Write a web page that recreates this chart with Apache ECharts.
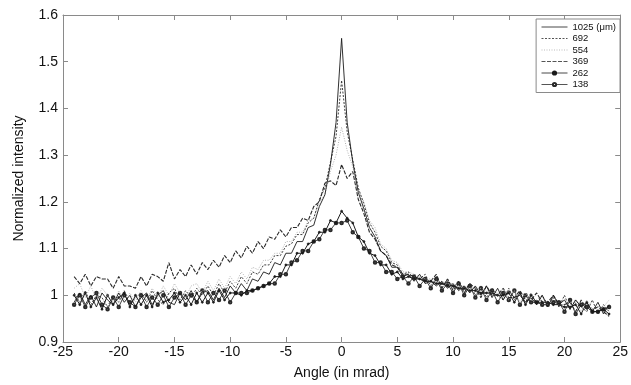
<!DOCTYPE html>
<html>
<head>
<meta charset="utf-8">
<script src="https://cdn.jsdelivr.net/npm/echarts@6/dist/echarts.min.js"></script>
<style>html,body{margin:0;padding:0;background:#fff}#c{width:631px;height:385px}</style>
</head>
<body>
<div id="c"></div>
<script>
const angles = [
 -24,-23.5,-23,-22.5,-22,-21.5,-21,-20.5,-20,-19.5,-19,-18.5,
 -18,-17.5,-17,-16.5,-16,-15.5,-15,-14.5,-14,-13.5,-13,-12.5,
 -12,-11.5,-11,-10.5,-10,-9.5,-9,-8.5,-8,-7.5,-7,-6.5,
 -6,-5.5,-5,-4.5,-4,-3.5,-3,-2.5,-2,-1.5,-1,-0.5,
 0,0.5,1,1.5,2,2.5,3,3.5,4,4.5,5,5.5,
 6,6.5,7,7.5,8,8.5,9,9.5,10,10.5,11,11.5,
 12,12.5,13,13.5,14,14.5,15,15.5,16,16.5,17,17.5,
 18,18.5,19,19.5,20,20.5,21,21.5,22,22.5,23,23.5,
 24];
const s1025 = [
 0.985,1.005,0.98,1.00,0.975,1.005,0.99,0.98,1.005,0.985,1.00,0.975,
 0.995,1.005,0.98,1.00,1.01,0.985,0.98,1.005,0.99,1.01,0.985,1.005,
 1.01,0.99,1.015,0.995,1.02,1.005,1.025,1.01,1.035,1.03,1.05,1.045,
 1.07,1.065,1.09,1.09,1.115,1.115,1.145,1.15,1.19,1.215,1.28,1.37,
 1.55,1.37,1.285,1.22,1.185,1.145,1.125,1.095,1.085,1.06,1.06,1.04,
 1.045,1.03,1.045,1.025,1.03,1.02,1.03,1.015,1.025,1.01,1.02,1.005,
 1.02,1.00,1.02,0.995,1.015,0.99,1.01,0.995,1.00,0.985,0.995,0.98,
 1.00,0.975,1.00,0.98,0.99,0.97,0.99,0.975,0.985,0.965,0.985,0.96,
 0.98];
const s692 = [
 1.005,0.985,1.01,0.98,1.00,0.995,0.975,1.00,0.985,1.01,0.98,0.995,
 1.005,0.985,1.01,0.99,0.98,1.005,1.015,0.99,1.01,0.995,1.015,1.00,
 1.02,1.00,1.025,1.005,1.03,1.015,1.04,1.025,1.05,1.045,1.065,1.065,
 1.085,1.085,1.105,1.11,1.13,1.13,1.155,1.165,1.205,1.23,1.285,1.34,
 1.46,1.35,1.29,1.23,1.195,1.155,1.135,1.105,1.095,1.07,1.065,1.045,
 1.05,1.035,1.035,1.045,1.02,1.04,1.015,1.035,1.015,1.03,1.01,1.025,
 1.00,1.02,0.995,1.015,1.00,0.99,1.015,0.99,1.005,0.985,1.005,0.98,
 1.00,0.98,0.995,0.975,1.00,0.97,0.99,0.975,0.965,0.99,0.96,0.98,
 0.965];
const s554 = [
 1.015,1.025,0.995,1.02,0.99,1.015,1.00,0.985,1.01,0.99,1.005,0.985,
 1.01,0.99,1.015,0.995,1.02,1.00,1.025,1.005,0.995,1.02,1.025,1.005,
 1.03,1.01,1.035,1.015,1.04,1.025,1.05,1.035,1.06,1.055,1.075,1.075,
 1.09,1.09,1.115,1.115,1.135,1.135,1.16,1.165,1.20,1.215,1.265,1.30,
 1.36,1.31,1.275,1.225,1.20,1.16,1.145,1.11,1.10,1.075,1.07,1.05,
 1.05,1.045,1.04,1.035,1.035,1.03,1.03,1.025,1.025,1.02,1.02,1.015,
 1.015,1.015,1.01,1.005,1.005,1.015,0.99,1.01,0.985,1.005,0.99,0.99,
 1.00,0.975,0.995,0.98,0.98,0.985,0.985,0.965,0.99,0.97,0.975,0.975,
 0.99];
const s369 = [
 1.04,1.025,1.045,1.02,1.04,1.035,1.035,1.015,1.04,1.02,1.02,1.015,
 1.04,1.02,1.045,1.04,1.03,1.07,1.035,1.055,1.04,1.065,1.045,1.07,
 1.055,1.075,1.06,1.085,1.07,1.095,1.08,1.105,1.09,1.115,1.10,1.125,
 1.12,1.14,1.125,1.145,1.145,1.165,1.16,1.19,1.20,1.24,1.245,1.235,
 1.28,1.25,1.265,1.205,1.175,1.135,1.12,1.095,1.085,1.065,1.06,1.045,
 1.045,1.04,1.035,1.03,1.03,1.045,1.015,1.035,1.01,1.03,1.005,1.025,
 1.015,0.995,1.02,1.00,1.00,1.015,0.995,0.995,1.01,0.99,0.99,1.005,
 0.985,0.985,1.00,0.98,0.98,0.985,0.965,0.99,0.97,0.97,0.975,0.965,
 0.955];
const s262 = [
 1.00,0.98,1.005,0.975,0.995,0.97,1.00,0.98,0.995,1.005,0.975,1.00,
 0.98,1.00,0.975,1.005,0.985,0.99,1.005,0.985,1.00,0.98,1.005,0.985,
 1.005,0.985,1.01,0.99,1.005,1.005,1.00,1.01,1.01,1.015,1.02,1.025,
 1.04,1.04,1.065,1.065,1.09,1.09,1.11,1.115,1.135,1.135,1.16,1.155,
 1.18,1.165,1.155,1.125,1.115,1.09,1.085,1.065,1.065,1.045,1.05,1.035,
 1.04,1.035,1.035,1.03,1.03,1.025,1.025,1.02,1.02,1.015,1.015,1.01,
 1.01,1.005,1.005,1.005,1.00,1.00,1.005,0.985,1.005,0.98,1.00,0.985,
 0.985,0.985,0.98,0.98,0.975,0.975,0.98,0.96,0.985,0.965,0.965,0.97,
 0.96];
const s138 = [
 0.98,1.00,0.975,0.995,1.005,0.98,0.97,0.995,0.975,1.00,0.985,0.975,
 1.00,0.975,0.995,0.98,1.00,0.975,0.995,1.005,0.98,1.00,0.985,1.01,
 0.985,1.005,0.99,1.01,0.985,1.005,1.005,1.005,1.01,1.015,1.02,1.025,
 1.025,1.045,1.045,1.07,1.075,1.095,1.095,1.115,1.12,1.14,1.14,1.155,
 1.155,1.16,1.135,1.125,1.10,1.095,1.07,1.07,1.05,1.05,1.035,1.04,
 1.025,1.04,1.02,1.035,1.015,1.035,1.01,1.025,1.005,1.025,1.00,1.02,
 0.995,1.015,0.99,1.01,0.985,1.005,0.99,1.01,0.98,1.00,0.985,0.985,
 0.98,0.98,0.985,0.985,0.965,0.99,0.96,0.98,0.975,0.965,0.965,0.97,
 0.975];
const seriesNames = ['1025 (\u03bcm)','692','554','369','262','138'];
const seriesValues = [s1025, s692, s554, s369, s262, s138];

const styles = [
  {color:'#1a1a1a', type:'solid', width:0.9, symbol:'none'},
  {color:'#2a2a2a', type:[2,1.5], width:0.9, symbol:'none'},
  {color:'#aaaaaa', type:[1,1.5], width:0.9, symbol:'none'},
  {color:'#2a2a2a', type:[4,1.5], width:1.1, symbol:'none'},
  {color:'#1a1a1a', type:'solid', width:1, symbol:'circle', size:2},
  {color:'#2a2a2a', type:'solid', width:0.9, symbol:'emptyCircle', size:2.5}
];

const chart = echarts.init(document.getElementById('c'), null, {renderer:'canvas'});
const font = 'Liberation Sans, Arial, Helvetica, sans-serif';
const axisCol = '#8a8a8a';
const series = seriesValues.map((vals, k) => {
  const st = styles[k];
  return {
    name: seriesNames[k],
    type: 'line',
    data: angles.map((a, i) => [a, vals[i]]),
    symbol: st.symbol,
    symbolSize: st.size || 0,
    showSymbol: st.symbol !== 'none',
    itemStyle: {color: st.color, borderColor: st.color, borderWidth: 0.7},
    lineStyle: {color: st.color, type: st.type, width: st.width},
    z: 10 - k
  };
});

chart.setOption({
  animation: false,
  backgroundColor: '#fff',
  grid: {left: 63, right: 10, top: 15, bottom: 42},
  legend: {
    orient: 'vertical',
    right: 11, top: 19,
    padding: [3, 4, 3, 5],
    itemWidth: 26, itemHeight: 4, itemGap: 1.5,
    backgroundColor: '#fff',
    borderColor: '#8a8a8a', borderWidth: 1, borderRadius: 0,
    lineStyle: {width: 0.8},
    textStyle: {fontFamily: font, fontSize: 9.5, color: '#111'},
    data: seriesNames.map((n, k) => styles[k].symbol === 'none'
      ? {name: n, itemStyle: {opacity: 0}}
      : {name: n})
  },
  xAxis: [{
    type: 'value', min: -25, max: 25, interval: 5,
    name: 'Angle (in mrad)', nameLocation: 'middle', nameGap: 24,
    nameTextStyle: {fontFamily: font, fontSize: 14, color: '#111'},
    axisLine: {onZero: false, lineStyle: {color: axisCol}},
    axisTick: {inside: true, length: 5, lineStyle: {color: axisCol}},
    axisLabel: {fontFamily: font, fontSize: 14, color: '#111', margin: 3},
    splitLine: {show: false}
  }, {
    type: 'value', min: -25, max: 25, interval: 5, position: 'top',
    axisLine: {onZero: false, lineStyle: {color: axisCol}},
    axisTick: {inside: true, length: 5, lineStyle: {color: axisCol}},
    axisLabel: {show: false}, splitLine: {show: false}
  }],
  yAxis: [{
    type: 'value', min: 0.9, max: 1.6, interval: 0.1,
    name: 'Normalized intensity', nameLocation: 'middle', nameGap: 37,
    nameTextStyle: {fontFamily: font, fontSize: 14, color: '#111'},
    axisLine: {show: true, onZero: false, lineStyle: {color: axisCol}},
    axisTick: {show: true, inside: true, length: 5, lineStyle: {color: axisCol}},
    axisLabel: {fontFamily: font, fontSize: 14, color: '#111', margin: 5,
      formatter: v => (Math.round(v*10)/10).toString()},
    splitLine: {show: false}
  }, {
    type: 'value', min: 0.9, max: 1.6, interval: 0.1, position: 'right',
    axisLine: {show: true, onZero: false, lineStyle: {color: axisCol}},
    axisTick: {show: true, inside: true, length: 5, lineStyle: {color: axisCol}},
    axisLabel: {show: false}, splitLine: {show: false}
  }],
  series: series
});
</script>
</body>
</html>
